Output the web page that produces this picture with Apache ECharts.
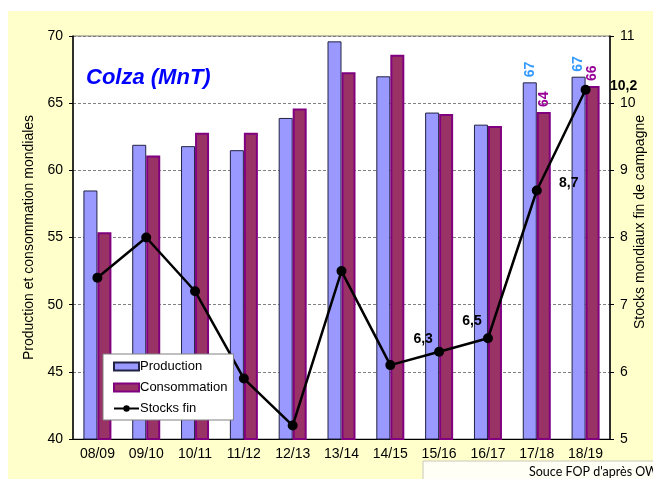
<!DOCTYPE html>
<html>
<head>
<meta charset="utf-8">
<script src="https://cdn.jsdelivr.net/npm/echarts@6/dist/echarts.min.js"></script>
<style>
html, body { margin: 0; padding: 0; background: #fff; }
#cn { width: 653px; height: 479px; }
</style>
</head>
<body>
<div id="cn"></div>
<script>
'use strict';

// campagnes
const arrCampagne = ['08/09', '09/10', '10/11', '11/12', '12/13', '13/14', '14/15', '15/16', '16/17', '17/18', '18/19'];
// MnT
const arrProduction = [58.5, 61.9, 61.8, 61.5, 63.9, 69.6, 67.0, 64.3, 63.4, 66.55, 66.97];
const arrConsommation = [55.4, 61.1, 62.8, 62.8, 64.6, 67.3, 68.6, 64.2, 63.3, 64.34, 66.28];
const arrStocks = [7.4, 8.0, 7.2, 5.9, 5.2, 7.5, 6.1, 6.3, 6.5, 8.7, 10.2];
// valeurs affichees
const arrBarLabelIdx = [9, 10];
const arrStockLabelIdx = [7, 8, 9, 10];

const FONT = 'Liberation Sans, Arial, sans-serif';

const chart = echarts.init(document.getElementById('cn'));

// decalage des etiquettes du stock
const stockOffset = {
    7: [-16, -13],
    8: [-16, -17],
    9: [32, -7],
    10: [38, -4]
};

const barLabel = (color) => ({
    show: true,
    position: 'top',
    distance: 5,
    rotate: 90,
    align: 'left',
    verticalAlign: 'middle',
    color: color,
    fontFamily: FONT,
    fontWeight: 'bold',
    fontSize: 14,
    formatter: (p) => Math.round(p.value)
});

const dataProd = arrProduction.map((v, i) => arrBarLabelIdx.includes(i) ? {
    value: v,
    label: barLabel('#3399FF')
} : v);

const dataConso = arrConsommation.map((v, i) => arrBarLabelIdx.includes(i) ? {
    value: v,
    label: barLabel('#990099')
} : v);

const dataStocks = arrStocks.map((v, i) => arrStockLabelIdx.includes(i) ? {
    value: v,
    label: {
        show: true,
        position: 'inside',
        offset: stockOffset[i],
        color: '#000',
        fontFamily: FONT,
        fontWeight: 'bold',
        fontSize: 14,
        formatter: (p) => String(p.value).replace('.', ',')
    }
} : v);

const option = {
    backgroundColor: '#fff',
    animation: false,
    graphic: [{
            type: 'rect',
            z: -10,
            shape: { x: 8, y: 11, width: 645, height: 468 },
            style: { fill: '#FFFFCC' }
        },
        {
            type: 'rect',
            z: 10,
            shape: { x: 423, y: 461, width: 240, height: 30 },
            style: { fill: '#FFFFF6', stroke: '#C8C8B8', lineWidth: 1 }
        },
        {
            type: 'text',
            z: 11,
            left: 529,
            top: 465,
            style: {
                text: "Souce FOP d'après OW",
                fill: '#000',
                font: '12.5px Lato, "Open Sans", sans-serif'
            }
        },
        {
            type: 'text',
            z: 11,
            left: 86,
            top: 67,
            style: {
                text: 'Colza (MnT)',
                fill: '#0000FF',
                font: 'italic bold 22px "Liberation Sans", Arial, sans-serif'
            }
        },
        {
            // nom de l'axe de droite
            type: 'text',
            z: 11,
            x: 640,
            y: 222,
            rotation: Math.PI / 2,
            style: {
                text: 'Stocks mondiaux fin de campagne',
                fill: '#000',
                align: 'center',
                verticalAlign: 'middle',
                font: '14px "Liberation Sans", Arial, sans-serif'
            }
        }
    ],
    grid: {
        left: 73,
        right: 43,
        top: 36,
        bottom: 40,
        outerBoundsMode: 'none',
        show: true,
        backgroundColor: '#fff',
        borderColor: '#808080',
        borderWidth: 1
    },
    legend: {
        left: 103,
        top: 354,
        width: 134,
        height: 66,
        orient: 'vertical',
        backgroundColor: '#fff',
        borderColor: '#808080',
        borderWidth: 1,
        padding: [6, 6, 5, 10],
        itemGap: 8,
        itemWidth: 25,
        itemHeight: 8,
        textStyle: {
            fontFamily: FONT,
            fontSize: 13,
            color: '#000',
            padding: [0, 0, 0, -4]
        },
        data: [{ name: 'Production', icon: 'rect' }, { name: 'Consommation', icon: 'rect' }, 'Stocks fin'],
        zlevel: 2
    },
    xAxis: {
        type: 'category',
        data: arrCampagne,
        axisLine: { lineStyle: { color: '#000', width: 1 } },
        axisTick: { length: 4, lineStyle: { color: '#000' } },
        axisLabel: {
            color: '#000',
            fontFamily: FONT,
            fontSize: 14,
            margin: 8
        }
    },
    yAxis: [{
            type: 'value',
            min: 40,
            max: 70,
            interval: 5,
            name: 'Production et consommation mondiales',
            nameLocation: 'middle',
            nameGap: 36,
            nameTextStyle: {
                color: '#000',
                fontFamily: FONT,
                fontSize: 14
            },
            axisLine: { show: true, lineStyle: { color: '#000', width: 1.5 } },
            axisTick: { show: true, length: 4, lineStyle: { color: '#000' } },
            axisLabel: {
                color: '#000',
                fontFamily: FONT,
                fontSize: 14,
                margin: 10
            },
            splitLine: {
                lineStyle: { color: '#808080', type: [3, 2], width: 1 }
            }
        },
        {
            type: 'value',
            min: 5,
            max: 11,
            interval: 1,
            position: 'right',
            axisLine: { show: true, lineStyle: { color: '#000', width: 1.5 } },
            axisTick: { show: true, length: 4, lineStyle: { color: '#000' } },
            axisLabel: {
                color: '#000',
                fontFamily: FONT,
                fontSize: 14,
                margin: 10
            },
            splitLine: { show: false }
        }
    ],
    series: [{
            name: 'Production',
            type: 'bar',
            barWidth: 14,
            barGap: '0%',
            itemStyle: {
                color: '#9999FF',
                borderColor: '#222244',
                borderWidth: 1
            },
            data: dataProd
        },
        {
            name: 'Consommation',
            type: 'bar',
            barWidth: 14,
            itemStyle: {
                color: '#993366',
                borderColor: '#800080',
                borderWidth: 2
            },
            data: dataConso
        },
        {
            name: 'Stocks fin',
            type: 'line',
            yAxisIndex: 1,
            symbol: 'circle',
            symbolSize: 10,
            lineStyle: { color: '#000', width: 2.5 },
            itemStyle: { color: '#000' },
            data: dataStocks
        }
    ]
};

chart.setOption(option);
</script>
</body>
</html>
